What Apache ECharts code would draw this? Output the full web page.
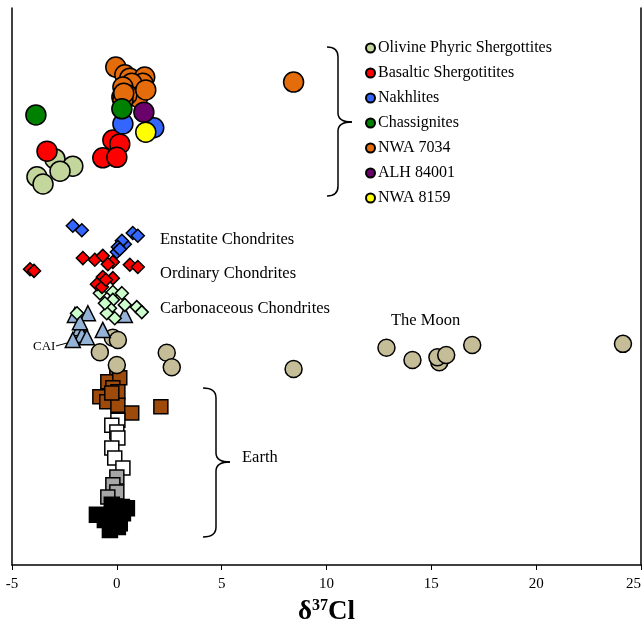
<!DOCTYPE html>
<html>
<head>
<meta charset="utf-8">
<script src="https://cdn.jsdelivr.net/npm/echarts@6/dist/echarts.min.js"></script>
<style>
  html, body { margin: 0; padding: 0; background: #fff; }
  #chart { width: 644px; height: 625px; }
</style>
</head>
<body>
<div id="chart"></div>
<script>
// x = δ37Cl (‰), y = arbitrary vertical position (0 bottom .. 100 top)
const xTicks = [-5, 0, 5, 10, 15, 20, 25];

// Mars
const olivineShergottites = [[-2.95, 72.9], [-2.10, 71.6], [-2.71, 70.7], [-3.81, 69.7], [-3.52, 68.4]];
const basalticShergottites = [[-3.33, 74.3], [-0.67, 73.1], [-0.19, 76.3], [0.14, 75.6], [0.0, 73.2]];
const nakhlites = [[0.29, 79.2], [1.76, 78.5]];
const chassignites = [[-3.86, 80.8], [0.24, 81.9]];
const nwa7034 = [[-0.05, 89.4], [0.38, 88.0], [0.62, 87.4], [1.33, 87.6], [1.24, 86.5], [0.71, 86.5],
  [0.29, 85.8], [1.0, 84.0], [0.48, 84.4], [0.24, 84.0], [0.29, 83.5], [0.33, 84.7], [1.38, 85.3], [8.43, 86.7]];
const alh84001 = [[1.29, 81.3]];
const nwa8159 = [[1.38, 77.7]];

// Chondrites
const enstatite = [[-2.10, 60.9], [-1.67, 60.1], [0.76, 59.6], [1.0, 59.1], [0.38, 57.6], [0.24, 58.2],
  [0.05, 57.1], [0.0, 56.2], [0.14, 56.7]];
const ordinary = [[-4.14, 53.1], [-3.95, 52.8], [-1.62, 55.1], [-1.05, 54.8], [-0.67, 55.5], [-0.19, 54.4],
  [-0.43, 54.0], [0.62, 53.9], [1.0, 53.5], [-0.67, 51.7], [-0.95, 50.4], [-0.19, 51.5], [-0.71, 49.9], [-0.52, 51.2]];
const carbonaceous = [[-0.81, 48.8], [-0.19, 49.0], [0.24, 48.8], [-0.19, 47.6], [0.38, 46.7], [0.95, 46.3],
  [1.19, 45.4], [-0.33, 46.1], [-0.48, 45.2], [-0.10, 44.3], [-1.90, 45.2], [-0.57, 47.0]];
const cai = [[-2.0, 44.9], [-1.38, 45.2], [-1.76, 42.5], [-1.67, 41.3], [-2.10, 40.4], [-1.43, 40.9],
  [-0.67, 42.2], [0.38, 44.9], [-1.76, 43.6]];

// Moon
const moon = [[-0.19, 40.8], [0.05, 40.4], [-0.81, 38.2], [0.0, 35.9], [2.38, 38.1], [2.62, 35.5],
  [8.43, 35.2], [12.86, 39.0], [14.10, 36.8], [15.38, 36.4], [15.29, 37.3], [15.71, 37.7], [16.95, 39.5], [24.14, 39.7]];

// Earth
const earthBrown = [[0.0, 34.1], [-0.43, 32.9], [0.14, 33.6], [-0.19, 31.8], [0.05, 31.1], [-0.81, 30.2],
  [-0.48, 29.3], [0.05, 28.7], [0.71, 27.3], [-0.24, 30.9], [2.10, 28.4]];
const earthWhite = [[0.05, 26.0], [-0.24, 25.1], [0.0, 23.9], [0.05, 22.8], [-0.24, 21.0], [-0.10, 19.2], [0.29, 17.4]];
const earthGray = [[0.0, 15.8], [-0.19, 14.4], [0.0, 13.1], [-0.43, 12.2]];
const earthBlack = [[-0.24, 10.8], [0.24, 10.4], [-0.95, 9.0], [-0.24, 8.6], [0.29, 9.3], [0.14, 7.5],
  [-0.33, 6.3], [-0.57, 8.1], [0.48, 10.2], [0.05, 6.8]];

const marsNames = ['Olivine Phyric Shergottites', 'Basaltic Shergotitites', 'Nakhlites', 'Chassignites',
  'NWA 7034', 'ALH 84001', 'NWA 8159'];

const FONT = '"Liberation Serif", "DejaVu Serif", serif';

function sc(name, data, symbol, size, color) {
  return {
    type: 'scatter', name: name, data: data, symbol: symbol, symbolSize: size,
    itemStyle: { color: color, borderColor: '#000', borderWidth: 1.5, opacity: 1 },
    emphasis: { disabled: true }
  };
}

// right-facing curly brace: x0 = hook end, xm = spine, xt = tip; top, mid, bottom y
function brace(x0, xm, xt, yt, ym, yb) {
  const st = { stroke: '#000', lineWidth: 1.5, fill: null };
  return [
    { type: 'bezierCurve', shape: { x1: x0, y1: yt, cpx1: xm, cpy1: yt, x2: xm, y2: yt + 10 }, style: st },
    { type: 'line', shape: { x1: xm, y1: yt + 10, x2: xm, y2: ym - 9 }, style: st },
    { type: 'bezierCurve', shape: { x1: xm, y1: ym - 9, cpx1: xm, cpy1: ym, x2: xt, y2: ym }, style: st },
    { type: 'bezierCurve', shape: { x1: xt, y1: ym, cpx1: xm, cpy1: ym, x2: xm, y2: ym + 9 }, style: st },
    { type: 'line', shape: { x1: xm, y1: ym + 9, x2: xm, y2: yb - 10 }, style: st },
    { type: 'bezierCurve', shape: { x1: xm, y1: yb - 10, cpx1: xm, cpy1: yb, x2: x0, y2: yb }, style: st }
  ];
}

function label(text, x, y, size) {
  return { type: 'text', x: x, y: y,
    style: { text: text, font: (size || 16.5) + 'px ' + FONT, fill: '#000', verticalAlign: 'middle' } };
}

const chart = echarts.init(document.getElementById('chart'));
chart.setOption({
  animation: false,
  backgroundColor: '#fff',
  grid: { left: 12, right: 3, top: 8, bottom: 60, outerBoundsMode: 'none', containLabel: false },
  legend: {
    data: marsNames,
    orient: 'vertical',
    left: 360, top: 35,
    itemWidth: 9, itemHeight: 9, itemGap: 9,
    icon: 'circle',
    textStyle: { fontFamily: FONT, fontSize: 16, color: '#000', padding: [0, 0, 0, -2] }
  },
  xAxis: {
    type: 'value', min: -5, max: 25, interval: 5,
    axisLine: { lineStyle: { color: '#000', width: 1.5 } },
    axisTick: { show: true, inside: false, length: 5, lineStyle: { color: '#000' } },
    axisLabel: {
      fontFamily: FONT, fontSize: 15, color: '#000', margin: 12, alignMaxLabel: 'right',
      formatter: function (v) { return xTicks.indexOf(v) >= 0 ? String(v) : ''; }
    },
    splitLine: { show: false },
    name: '{a|δ}{b|37}{a|Cl}',
    nameLocation: 'middle', nameGap: 33,
    nameTextStyle: {
      rich: {
        a: { fontFamily: FONT, fontWeight: 'bold', fontSize: 27, color: '#000' },
        b: { fontFamily: FONT, fontWeight: 'bold', fontSize: 16, color: '#000', padding: [0, 0, 12, 0] }
      }
    }
  },
  yAxis: [
    {
      type: 'value', min: 0, max: 100, position: 'left',
      axisLine: { show: true, onZero: false, lineStyle: { color: '#000', width: 1.5 } },
      axisTick: { show: false }, axisLabel: { show: false }, splitLine: { show: false }
    },
    {
      type: 'value', min: 0, max: 100, position: 'right',
      axisLine: { show: true, onZero: false, lineStyle: { color: '#000', width: 1.5 } },
      axisTick: { show: false }, axisLabel: { show: false }, splitLine: { show: false }
    }
  ],
  series: [
    sc('Earth brown', earthBrown, 'rect', 14, '#9e4a0b'),
    sc('Earth white', earthWhite, 'rect', 14, '#ffffff'),
    sc('Earth gray', earthGray, 'rect', 14, '#a6a6a6'),
    sc('Earth black', earthBlack, 'rect', 15, '#000000'),
    sc('Moon', moon, 'circle', 17, '#c4bd97'),
    sc('CAI', cai, 'triangle', 15, '#95b3d7'),
    sc('Carbonaceous Chondrites', carbonaceous, 'diamond', 13, '#ccffcc'),
    sc('Ordinary Chondrites', ordinary, 'diamond', 13, '#ff0000'),
    sc('Enstatite Chondrites', enstatite, 'diamond', 13, '#3366ff'),
    sc(marsNames[0], olivineShergottites, 'circle', 20, '#c3d69b'),
    sc(marsNames[1], basalticShergottites, 'circle', 20, '#ff0000'),
    sc(marsNames[4], nwa7034, 'circle', 20, '#e46c0a'),
    sc(marsNames[2], nakhlites, 'circle', 20, '#3366ff'),
    sc(marsNames[3], chassignites, 'circle', 20, '#008000'),
    sc(marsNames[5], alh84001, 'circle', 20, '#6a006a'),
    sc(marsNames[6], nwa8159, 'circle', 20, '#ffff00')
  ],
  graphic: [].concat(
    brace(327, 338, 352, 47, 122, 196),
    brace(203, 216, 230, 388, 462, 537),
    [
      { type: 'line', shape: { x1: 56, y1: 346, x2: 67, y2: 343 }, style: { stroke: '#000', lineWidth: 1 } },
      label('Enstatite Chondrites', 160, 240),
      label('Ordinary Chondrites', 160, 274),
      label('Carbonaceous Chondrites', 160, 309),
      label('The Moon', 391, 321),
      label('CAI', 33, 347, 13),
      label('Earth', 242, 458)
    ]
  )
});
</script>
</body>
</html>
